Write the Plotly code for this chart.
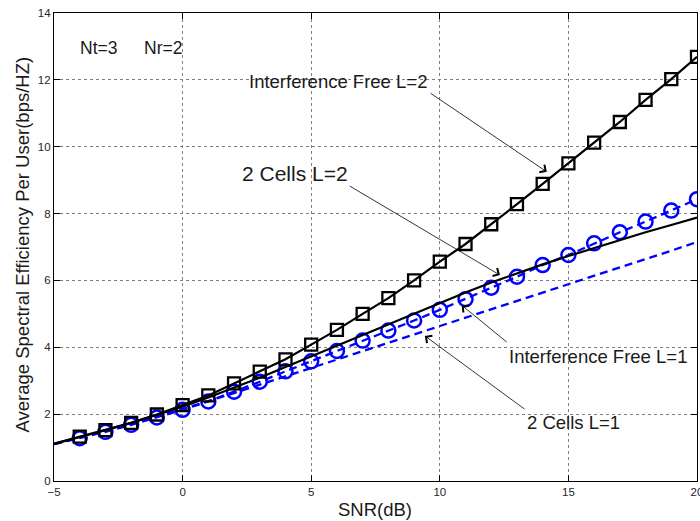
import plotly.graph_objects as go

# ---- data ----
snr = list(range(-5, 21))
if_l2 = [1.12, 1.33, 1.52, 1.74, 1.99, 2.27, 2.56, 2.92, 3.27, 3.64, 4.08, 4.52, 5.00,
         5.47, 6.00, 6.56, 7.09, 7.68, 8.28, 8.89, 9.50, 10.12, 10.74, 11.40, 12.02, 12.69]
cells_l2 = [1.10, 1.28, 1.47, 1.68, 1.90, 2.13, 2.38, 2.67, 2.97, 3.28, 3.58, 3.89, 4.20,
            4.50, 4.80, 5.12, 5.44, 5.78, 6.11, 6.46, 6.76, 7.11, 7.44, 7.76, 8.09, 8.43]
if_l1 = [1.11, 1.31, 1.52, 1.74, 1.97, 2.22, 2.50, 2.79, 3.09, 3.41, 3.73, 4.05, 4.37,
         4.69, 5.01, 5.33, 5.64, 5.94, 6.22, 6.48, 6.73, 6.97, 7.20, 7.44, 7.66, 7.88]
cells_l1 = [1.10, 1.30, 1.51, 1.72, 1.93, 2.15, 2.39, 2.63, 2.88, 3.13, 3.38, 3.63, 3.88,
            4.13, 4.38, 4.63, 4.88, 5.13, 5.38, 5.63, 5.88, 6.13, 6.38, 6.63, 6.89, 7.15]

x_ticks = [-5, 0, 5, 10, 15, 20]
y_ticks = [0, 2, 4, 6, 8, 10, 12, 14]

FONT = "Liberation Sans, Arial, sans-serif"
BLUE = "#0000ff"
TXT = "#1a1a1a"

fig = go.Figure()

fig.add_trace(go.Scatter(x=snr, y=cells_l1, mode="lines",
                         line=dict(color=BLUE, width=2.3, dash="8px,5px"),
                         name="2 Cells L=1"))
fig.add_trace(go.Scatter(x=snr, y=cells_l2, mode="lines",
                         line=dict(color=BLUE, width=2.3, dash="8px,5px"),
                         name="2 Cells L=2"))
fig.add_trace(go.Scatter(x=snr[1:], y=cells_l2[1:], mode="markers",
                         marker=dict(symbol="circle-open", size=14, color=BLUE,
                                     line=dict(width=2.5, color=BLUE)),
                         showlegend=False))
fig.add_trace(go.Scatter(x=snr, y=if_l1, mode="lines",
                         line=dict(color="black", width=2.2),
                         name="Interference Free L=1"))
fig.add_trace(go.Scatter(x=snr, y=if_l2, mode="lines",
                         line=dict(color="black", width=2.2),
                         name="Interference Free L=2"))
fig.add_trace(go.Scatter(x=snr[1:], y=if_l2[1:], mode="markers",
                         marker=dict(symbol="square-open", size=12, color="black",
                                     line=dict(width=2.3, color="black")),
                         showlegend=False))

axis_common = dict(
    showline=True, linecolor="black", linewidth=1.2, mirror="ticks",
    ticks="inside", ticklen=6, tickwidth=1, tickcolor="black",
    showgrid=True, gridcolor="#7f7f7f", gridwidth=1, griddash="dot",
    zeroline=False, tickfont=dict(family=FONT, size=11.5, color="#262626"),
    ticklabeloverflow="allow", automargin=False,
)

fig.update_xaxes(range=[-5, 20], tickvals=x_ticks, **axis_common)
fig.update_yaxes(range=[0, 14], tickvals=y_ticks, **axis_common)

annotations = []
texts = [
    ("Nt=3", -3.26, 12.95, 17.5),
    ("Nr=2", -0.77, 12.95, 17.5),
    ("Interference Free L=2", 6.06, 11.94, 18.5),
    ("2 Cells L=2", 4.37, 9.20, 21),
    ("Interference Free L=1", 16.15, 3.72, 18.5),
    ("2 Cells L=1", 15.19, 1.76, 18.5),
]
for t, x, y, s in texts:
    annotations.append(dict(text=t, x=x, y=y, xref="x", yref="y", showarrow=False,
                            xanchor="center", yanchor="middle",
                            font=dict(family=FONT, size=s, color=TXT)))
# arrows: (tail_x, tail_y, head_x, head_y)
arrows = [
    (9.58, 11.63, 14.16, 9.25),
    (6.44, 8.85, 12.34, 6.16),
    (12.66, 4.12, 10.85, 5.26),
    (13.35, 2.12, 9.42, 4.34),
]
for tx, ty, hx, hy in arrows:
    annotations.append(dict(text="", x=hx, y=hy, ax=tx, ay=ty, xref="x", yref="y",
                            axref="x", ayref="y", showarrow=True, arrowhead=4,
                            arrowsize=2.2, arrowwidth=0.8, arrowcolor="black",
                            standoff=0, startstandoff=0))
# axis titles
annotations.append(dict(text="SNR(dB)", xref="paper", yref="paper",
                        x=(374.5 - 54) / 643, y=-(509 - 481) / 468,
                        showarrow=False, xanchor="center", yanchor="middle",
                        font=dict(family=FONT, size=18.5, color=TXT)))
annotations.append(dict(text="Average Spectral Efficiency Per User(bps/HZ)",
                        xref="paper", yref="paper",
                        x=-(54 - 21.5) / 643, y=(481 - 245) / 468, textangle=-90,
                        showarrow=False, xanchor="center", yanchor="middle",
                        font=dict(family=FONT, size=18.5, color=TXT)))

fig.update_layout(
    annotations=annotations,
    width=700, height=521,
    margin=dict(l=54, r=3, t=13, b=40, autoexpand=False),
    paper_bgcolor="white", plot_bgcolor="white",
    showlegend=False,
)

fig.write_html("out.html")
